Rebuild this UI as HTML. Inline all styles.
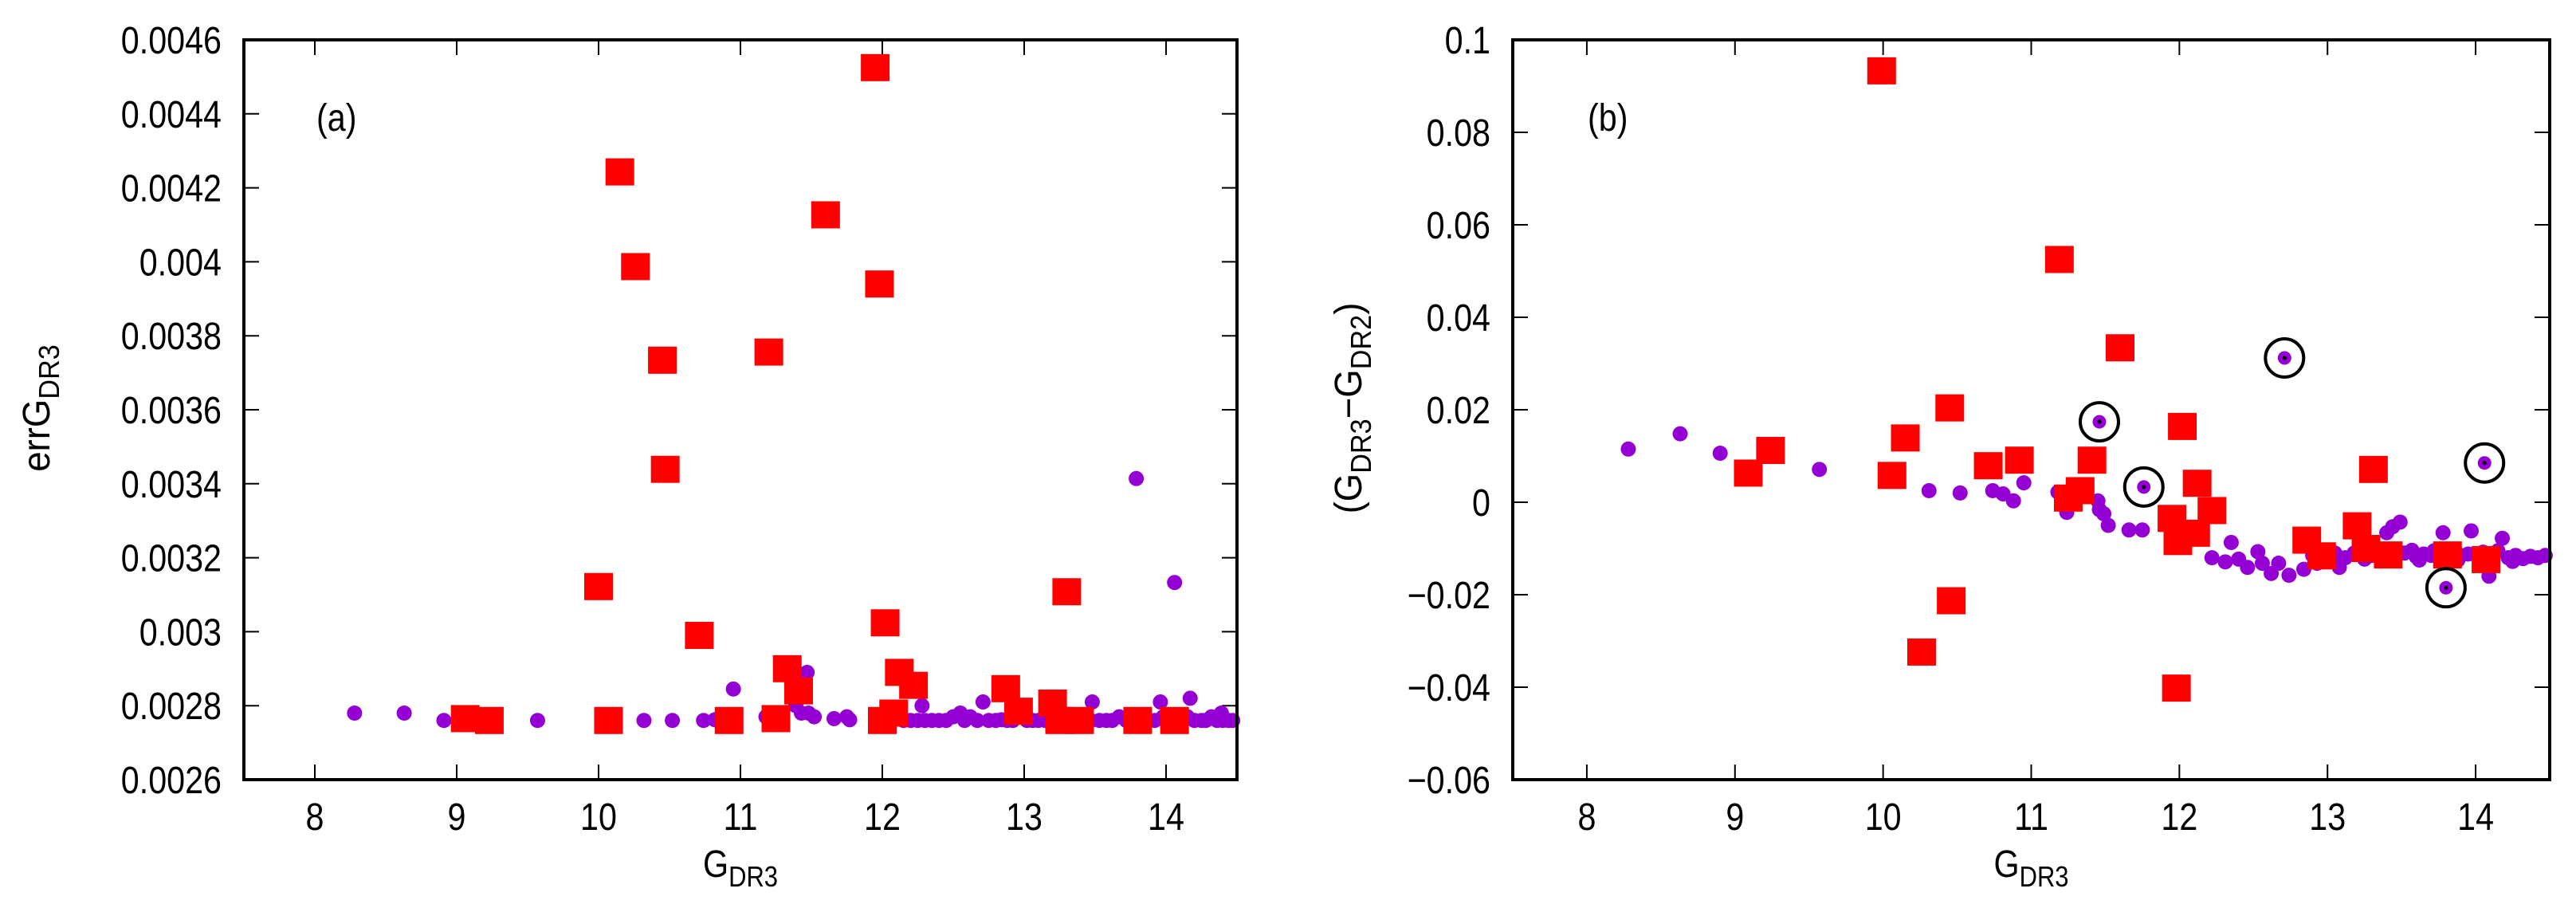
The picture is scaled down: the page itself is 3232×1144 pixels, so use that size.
<!DOCTYPE html>
<html><head><meta charset="utf-8">
<style>
html,body{margin:0;padding:0;background:#fff;}
svg{display:block;font-family:"Liberation Sans",sans-serif;}
</style></head>
<body>
<svg id="chart" width="3232" height="1144" viewBox="0 0 3232 1144" xmlns="http://www.w3.org/2000/svg"></svg>
<script>
// Panel (a) data
const aRedX = [9.06,9.23,10.0,10.07,10.15,10.26,10.45,10.47,10.71,10.92,11.2,11.25,11.33,11.41,11.6,11.95,11.98,12.02,12.0,12.08,12.12,12.22,12.87,12.96,13.2,13.25,13.3,13.39,13.8,14.06];
const aRedY = [0.002765,0.00276,0.003122,0.00276,0.004243,0.003987,0.003734,0.003439,0.00299,0.00276,0.003756,0.002765,0.0029,0.00284,0.004127,0.004525,0.00394,0.003024,0.00276,0.00278,0.00289,0.002855,0.002846,0.002785,0.002807,0.00276,0.003108,0.00276,0.00276,0.00276];
const aDotX = [8.28,8.63,8.91,9.57,10.32,10.52,10.74,10.82,10.95,11.18,11.39,11.43,11.47,11.48,11.52,11.66,11.75,11.77,12.28,12.55,12.71,12.84,13.48,13.79,13.96,14.06,14.17,14.39,
 12.15,12.2,12.25,12.3,12.35,12.4,12.45,12.5,12.58,12.62,12.67,12.75,12.8,12.88,12.92,12.97,13.02,13.06,13.1,13.15,13.2,13.28,13.33,13.38,13.42,13.47,13.53,13.58,13.62,13.67,13.72,13.77,13.83,13.88,13.92,13.98,14.02,14.08,14.12,14.15,14.2,14.25,14.28,14.32,14.36,14.4,14.44,14.47];
const aDotY = [0.00278,0.00278,0.00276,0.00276,0.00276,0.00276,0.00276,0.002762,0.002845,0.00277,0.0028,0.00278,0.00289,0.00278,0.00277,0.002765,0.00277,0.002762,0.0028,0.00278,0.00281,0.002762,0.00281,0.003414,0.00281,0.003133,0.00282,0.00278,
 0.00276,0.00276,0.00276,0.00276,0.00276,0.00276,0.00276,0.00277,0.00276,0.00277,0.00276,0.00276,0.00276,0.00276,0.00276,0.00277,0.00276,0.00276,0.00276,0.00276,0.00277,0.00276,0.00276,0.00276,0.00276,0.00276,0.00276,0.00276,0.00276,0.00277,0.00276,0.00276,0.00276,0.00276,0.00276,0.00277,0.00276,0.00276,0.00276,0.00277,0.00276,0.00276,0.00276,0.00277,0.00276,0.00276,0.00276,0.00276];
const aYTicks = [0.0026,0.0028,0.003,0.0032,0.0034,0.0036,0.0038,0.004,0.0042,0.0044,0.0046];
const aYLabels = ["0.0026","0.0028","0.003","0.0032","0.0034","0.0036","0.0038","0.004","0.0042","0.0044","0.0046"];
// Panel (b) data
const bRedX = [9.99,9.09,9.24,10.06,10.15,10.45,10.46,10.26,10.71,10.92,11.19,11.25,11.33,11.41,11.6,12.02,11.95,11.99,11.98,12.11,12.12,12.22,12.86,12.96,13.2,13.26,13.31,13.41,13.81,14.07];
const bRedY = [0.0933,0.0063,0.0112,0.0058,0.0139,0.0204,-0.0213,-0.0324,0.0079,0.0091,0.0525,0.0009,0.0025,0.0091,0.0334,0.0164,-0.0035,-0.0085,-0.0402,-0.0067,0.0041,-0.0018,-0.0082,-0.0116,-0.0051,-0.01,0.0071,-0.0114,-0.0114,-0.0124];
const bCircX = [11.46,11.76,12.71,13.8,14.06];
const bCircY = [0.0174,0.0033,0.0312,-0.0185,0.0085];
const bDotX = [8.28,8.63,8.9,9.57,10.31,10.52,10.74,10.81,10.88,10.95,11.18,11.24,11.45,11.46,11.49,11.52,11.66,11.75,12.35,12.22,12.31,12.4,12.46,12.53,12.56,12.62,12.67,12.74,12.84,12.93,13.08,13.25,13.4,13.44,13.49,13.57,13.78,13.97,14.09,14.18,
 12.9,12.98,13.05,13.12,13.18,13.3,13.35,13.45,13.52,13.6,13.65,13.7,13.75,13.85,13.9,13.95,14.02,14.12,14.15,14.22,14.27,14.32,14.37,14.42,14.47,13.62,13.72,13.88,14.05,14.25];
const bDotY = [0.0115,0.0148,0.0106,0.0071,0.0025,0.002,0.0025,0.0018,0.0003,0.0042,0.0022,-0.0022,0.0003,-0.0016,-0.0025,-0.005,-0.006,-0.006,-0.0087,-0.012,-0.0129,-0.0123,-0.0141,-0.0107,-0.0132,-0.0154,-0.0132,-0.0158,-0.0145,-0.0132,-0.0141,-0.0123,-0.0066,-0.0053,-0.0043,-0.0104,-0.0066,-0.0062,-0.016,-0.0078,
 -0.0115,-0.0125,-0.011,-0.012,-0.011,-0.0115,-0.0112,-0.0118,-0.011,-0.0118,-0.0112,-0.0115,-0.011,-0.0118,-0.0115,-0.0112,-0.0118,-0.0115,-0.0105,-0.012,-0.0115,-0.0122,-0.0117,-0.012,-0.0115,-0.0125,-0.0105,-0.0125,-0.0108,-0.0128];
const bYTicks = [-0.06,-0.04,-0.02,0,0.02,0.04,0.06,0.08,0.1];
const bYLabels = ["\u22120.06","\u22120.04","\u22120.02","0","0.02","0.04","0.06","0.08","0.1"];
const xTicks = [8,9,10,11,12,13,14];

const NS = "http://www.w3.org/2000/svg";
const svg = document.getElementById('chart');
function mk(tag, attrs, parent){
  const e = document.createElementNS(NS, tag);
  for (const k in attrs) e.setAttribute(k, attrs[k]);
  (parent||svg).appendChild(e);
  return e;
}
const SX = 0.86;

function panel(p){
  const g = mk('g', {});
  
  
  const L=p.left,R=p.right,T=50,B=978;
  const sx = v => L + (v-7.5)/(14.5-7.5)*(R-L);
  const sy = v => B - (v-p.ymin)/(p.ymax-p.ymin)*(B-T);
  for (let i=0;i<xTicks.length;i++){
    const x = sx(xTicks[i]);
    const t1 = mk('line',{x1:x,y1:B,x2:x,y2:B-19,stroke:'#000','stroke-width':2},g);
    
    
    mk('line',{x1:x,y1:T,x2:x,y2:T+19,stroke:'#000','stroke-width':2},g);
    const lab = mk('text',{x:0,y:0,'font-size':48,'text-anchor':'middle',transform:'translate('+x+',1041) scale('+SX+',1)'},g);
    
    
    lab.textContent = String(xTicks[i]);
  }
  for (let i=0;i<p.yt.length;i++){
    const y = sy(p.yt[i]);
    const t = mk('line',{x1:L,y1:y,x2:L+19,y2:y,stroke:'#000','stroke-width':2},g);
    
    
    mk('line',{x1:R,y1:y,x2:R-19,y2:y,stroke:'#000','stroke-width':2},g);
    const lab = mk('text',{x:0,y:0,'font-size':48,'text-anchor':'end',transform:'translate('+(L-28)+','+(y+17)+') scale('+SX+',1)'},g);
    
    
    lab.textContent = p.yl[i];
  }
  for (let i=0;i<p.dx.length;i++){
    const c = mk('circle',{cx:sx(p.dx[i]),cy:sy(p.dy[i]),r:9.5,fill:'#9400d3'},g);
    
    
  }
  for (let i=0;i<p.rx.length;i++){
    const r = mk('rect',{x:sx(p.rx[i])-18,y:sy(p.ry[i])-17,width:36,height:34,fill:'#ff0000'},g);
    
    
  }
  if (p.cx){
    for (let i=0;i<p.cx.length;i++){
      const x=sx(p.cx[i]), y=sy(p.cy[i]);
      mk('circle',{cx:x,cy:y,r:8.5,fill:'#9400d3'},g);
      mk('circle',{cx:x,cy:y,r:2.5,fill:'#000'},g);
      const c = mk('circle',{cx:x,cy:y,r:24,fill:'none',stroke:'#000','stroke-width':4},g);
      
      
    }
  }
  const f = mk('rect',{x:L,y:T,width:R-L,height:B-T,fill:'none',stroke:'#000','stroke-width':4},g);
  
  
  const pl = mk('text',{x:0,y:0,'font-size':48,transform:'translate('+p.lx+',164) scale('+SX+',1)'},g);
  
  
  pl.textContent = p.label;
  const xt = mk('text',{x:0,y:0,'font-size':48,'text-anchor':'middle',transform:'translate('+((L+R)/2)+',1100) scale('+SX+',1)'},g);
  
  
  xt.innerHTML = 'G<tspan font-size="36" dy="12">DR3</tspan>';
  const yt = mk('text',{x:0,y:0,'font-size':48,'text-anchor':'middle',transform:'translate('+p.ytx+',512) rotate(-90) scale(0.95,1)'},g);
  
  
  yt.innerHTML = p.ytitle;
}

panel({name:'panel-a',left:306,right:1552,ymin:0.0026,ymax:0.0046,yt:aYTicks,yl:aYLabels,
  dx:aDotX,dy:aDotY,rx:aRedX,ry:aRedY,label:'(a)',lx:397,ytx:62,
  ytitle:'errG<tspan font-size="36" dy="12">DR3</tspan>'});
panel({name:'panel-b',left:1898,right:3199,ymin:-0.06,ymax:0.1,yt:bYTicks,yl:bYLabels,
  dx:bDotX,dy:bDotY,rx:bRedX,ry:bRedY,cx:bCircX,cy:bCircY,label:'(b)',lx:1992,ytx:1708,
  ytitle:'(G<tspan font-size="36" dy="12">DR3</tspan><tspan dy="-12">\u2212G</tspan><tspan font-size="36" dy="12">DR2</tspan><tspan dy="-12">)</tspan>'});
</script>
</body></html>
